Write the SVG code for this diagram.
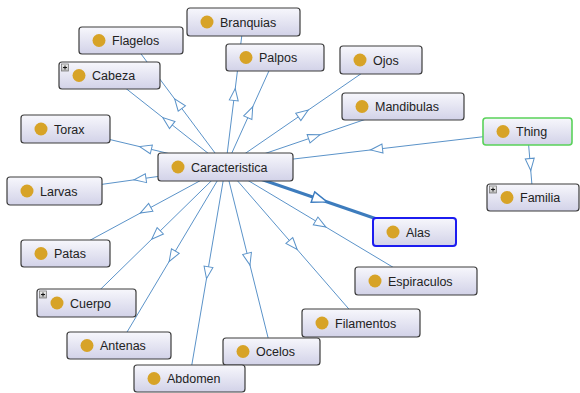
<svg xmlns="http://www.w3.org/2000/svg" width="580" height="393" viewBox="0 0 580 393">
<defs>
<linearGradient id="nodeFill" x1="0" y1="0" x2="0" y2="1">
<stop offset="0" stop-color="#f7f7fc"/>
<stop offset="1" stop-color="#d2d2e8"/>
</linearGradient>
<linearGradient id="plusFill" x1="0" y1="0" x2="0" y2="1">
<stop offset="0" stop-color="#f0f0f0"/>
<stop offset="1" stop-color="#b8b8b8"/>
</linearGradient>
<marker id="arrow" markerWidth="16" markerHeight="12" refX="6.5" refY="5" orient="auto" markerUnits="userSpaceOnUse" overflow="visible">
<path d="M0.5,0.5 L12.5,5 L0.5,9.5 Z" fill="#ffffff" stroke="#5b93c9" stroke-width="1"/>
</marker>
<marker id="arrowBold" markerWidth="20" markerHeight="14" refX="8" refY="6" orient="auto" markerUnits="userSpaceOnUse" overflow="visible">
<path d="M0.5,0.5 L15.5,6 L0.5,11.5 Z" fill="#ffffff" stroke="#3a7bbf" stroke-width="1.4"/>
</marker>
</defs>
<style>
.edge{fill:none;stroke:#5b93c9;stroke-width:1;marker-mid:url(#arrow)}
.edgeBold{fill:none;stroke:#3d7cbd;stroke-width:3;marker-mid:url(#arrowBold)}
.box{fill:url(#nodeFill);stroke:#3c3c3c;stroke-width:1.2}
.boxThing{fill:url(#nodeFill);stroke:#5ad25a;stroke-width:1.6}
.boxSel{fill:url(#nodeFill);stroke:#1c1cf0;stroke-width:2}
.dot{fill:#d7a327}
.lbl{font-family:"Liberation Sans",Arial,sans-serif;font-size:12.5px;fill:#222}
.plus{fill:url(#plusFill);stroke:#7a7a7a;stroke-width:0.8}
.plusMark{stroke:#111;stroke-width:1}
</style>

<g id="connectors">
<path class="edge" d="M225.5,167 L234.5,94.5 L243.5,22"/>
<path class="edge" d="M225.5,167 L178.25,103.75 L131,40.5"/>
<path class="edge" d="M225.5,167 L167.5,121.25 L109.5,75.5"/>
<path class="edge" d="M225.5,167 L250.25,112.25 L275,57.5"/>
<path class="edge" d="M225.5,167 L303.25,113.5 L381,60"/>
<path class="edge" d="M225.5,167 L314.25,136.75 L403,106.5"/>
<path class="edge" d="M225.5,167 L145.5,148 L65.5,129"/>
<path class="edge" d="M225.5,167 L140,179 L54.5,191"/>
<path class="edge" d="M225.5,167 L145.5,210.25 L65.5,253.5"/>
<path class="edge" d="M225.5,167 L156,235 L86.5,303"/>
<path class="edge" d="M225.5,167 L172.25,256.25 L119,345.5"/>
<path class="edge" d="M225.5,167 L207.5,272.75 L189.5,378.5"/>
<path class="edge" d="M225.5,167 L248.5,259.25 L271.5,351.5"/>
<path class="edge" d="M225.5,167 L293.25,245 L361,323"/>
<path class="edge" d="M225.5,167 L320.75,224 L416,281"/>
<path class="edge" d="M527.5,131.5 L376.5,149.25 L225.5,167"/>
<path class="edge" d="M527.5,131.5 L530.25,164.5 L533,197.5"/>
<path class="edgeBold" d="M225.5,167 L320,199.5 L414.5,232"/>
</g>

<g id="node-branquias">
<rect class="box" x="187" y="8" width="113" height="28" rx="3"/>
<circle class="dot" cx="207" cy="22" r="6.5"/>
<text class="lbl" x="220" y="26.5">Branquias</text>
</g>
<g id="node-flagelos">
<rect class="box" x="79" y="27" width="104" height="27" rx="3"/>
<circle class="dot" cx="99" cy="40.5" r="6.5"/>
<text class="lbl" x="112" y="45">Flagelos</text>
</g>
<g id="node-palpos">
<rect class="box" x="226" y="44" width="98" height="27" rx="3"/>
<circle class="dot" cx="246" cy="57.5" r="6.5"/>
<text class="lbl" x="259" y="62">Palpos</text>
</g>
<g id="node-cabeza">
<rect class="box" x="59" y="62" width="101" height="27" rx="3"/>
<rect class="plus" x="61.5" y="64" width="7" height="7"/>
<path class="plusMark" d="M63,67.5 H67 M65,65.5 V69.5"/>
<circle class="dot" cx="79" cy="75.5" r="6.5"/>
<text class="lbl" x="92" y="80">Cabeza</text>
</g>
<g id="node-ojos">
<rect class="box" x="340" y="46" width="82" height="28" rx="3"/>
<circle class="dot" cx="360" cy="60" r="6.5"/>
<text class="lbl" x="373" y="64.5">Ojos</text>
</g>
<g id="node-mandibulas">
<rect class="box" x="342" y="93" width="122" height="27" rx="3"/>
<circle class="dot" cx="362" cy="106.5" r="6.5"/>
<text class="lbl" x="375" y="111">Mandibulas</text>
</g>
<g id="node-thing">
<rect class="boxThing" x="483" y="118" width="89" height="27" rx="3"/>
<circle class="dot" cx="503" cy="131.5" r="6.5"/>
<text class="lbl" x="516" y="136">Thing</text>
</g>
<g id="node-familia">
<rect class="box" x="487" y="184" width="92" height="27" rx="3"/>
<rect class="plus" x="489.5" y="186" width="7" height="7"/>
<path class="plusMark" d="M491,189.5 H495 M493,187.5 V191.5"/>
<circle class="dot" cx="507" cy="197.5" r="6.5"/>
<text class="lbl" x="520" y="202">Familia</text>
</g>
<g id="node-torax">
<rect class="box" x="21" y="115" width="89" height="28" rx="3"/>
<circle class="dot" cx="41" cy="129" r="6.5"/>
<text class="lbl" x="54" y="133.5">Torax</text>
</g>
<g id="node-caracteristica">
<rect class="box" x="158" y="153" width="135" height="28" rx="3"/>
<circle class="dot" cx="178" cy="167" r="6.5"/>
<text class="lbl" x="191" y="171.5">Caracteristica</text>
</g>
<g id="node-larvas">
<rect class="box" x="7" y="177" width="95" height="28" rx="3"/>
<circle class="dot" cx="27" cy="191" r="6.5"/>
<text class="lbl" x="40" y="195.5">Larvas</text>
</g>
<g id="node-alas">
<rect class="boxSel" x="373" y="218" width="83" height="28" rx="3"/>
<circle class="dot" cx="393" cy="232" r="6.5"/>
<text class="lbl" x="406" y="236.5">Alas</text>
</g>
<g id="node-patas">
<rect class="box" x="21" y="240" width="89" height="27" rx="3"/>
<circle class="dot" cx="41" cy="253.5" r="6.5"/>
<text class="lbl" x="54" y="258">Patas</text>
</g>
<g id="node-espiraculos">
<rect class="box" x="355" y="267" width="122" height="28" rx="3"/>
<circle class="dot" cx="375" cy="281" r="6.5"/>
<text class="lbl" x="388" y="285.5">Espiraculos</text>
</g>
<g id="node-cuerpo">
<rect class="box" x="37" y="289" width="99" height="28" rx="3"/>
<rect class="plus" x="39.5" y="291" width="7" height="7"/>
<path class="plusMark" d="M41,294.5 H45 M43,292.5 V296.5"/>
<circle class="dot" cx="57" cy="303" r="6.5"/>
<text class="lbl" x="70" y="307.5">Cuerpo</text>
</g>
<g id="node-filamentos">
<rect class="box" x="302" y="309" width="118" height="28" rx="3"/>
<circle class="dot" cx="322" cy="323" r="6.5"/>
<text class="lbl" x="335" y="327.5">Filamentos</text>
</g>
<g id="node-antenas">
<rect class="box" x="67" y="332" width="104" height="27" rx="3"/>
<circle class="dot" cx="87" cy="345.5" r="6.5"/>
<text class="lbl" x="100" y="350">Antenas</text>
</g>
<g id="node-ocelos">
<rect class="box" x="223" y="338" width="97" height="27" rx="3"/>
<circle class="dot" cx="243" cy="351.5" r="6.5"/>
<text class="lbl" x="256" y="356">Ocelos</text>
</g>
<g id="node-abdomen">
<rect class="box" x="134" y="365" width="111" height="27" rx="3"/>
<circle class="dot" cx="154" cy="378.5" r="6.5"/>
<text class="lbl" x="167" y="383">Abdomen</text>
</g>
</svg>
